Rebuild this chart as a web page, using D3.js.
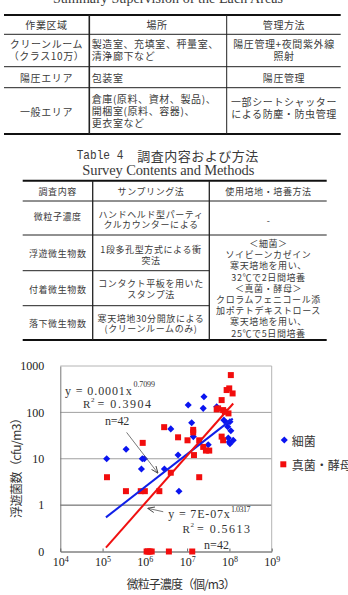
<!DOCTYPE html>
<html><head><meta charset="utf-8">
<script src="https://cdn.jsdelivr.net/npm/d3@7"></script>
<style>
html,body{margin:0;padding:0;background:#fff;overflow:hidden;}
svg{display:block;}
</style></head><body>
<svg id="c" width="348" height="595"></svg>
<script>
// ---------------- DATA ----------------
// Table 3
const t3Title = "Summary Supervision of the Each Areas";
const t3Header = ["作業区域", "場所", "管理方法"];
const t3Col1 = [["クリーンルーム", "（クラス10万）"], ["陽圧エリア"], ["一般エリア"]];
const t3Col2 = [["製造室、充填室、秤量室、", "清浄廊下など"], ["包装室"], ["倉庫(原料、資材、製品)、", "開梱室(原料、容器)、", "更衣室など"]];
const t3Col3 = [["陽圧管理+夜間紫外線", "照射"], ["陽圧管理"], ["一部シートシャッター", "による防塵・防虫管理"]];
// Table 4
const t4TitleA = "Table 4";
const t4TitleB = "調査内容および方法";
const t4TitleEn = "Survey Contents and Methods";
const t4Header = ["調査内容", "サンプリング法", "使用培地・培養方法"];
const t4Col1 = ["微粒子濃度", "浮遊微生物数", "付着微生物数", "落下微生物数"];
const t4Col2 = [["ハンドヘルド型パーティ", "クルカウンターによる"], ["1段多孔型方式による衝", "突法"], ["コンタクト平板を用いた", "スタンプ法"], ["寒天培地30分開放による", "(クリーンルームのみ)"]];
const t4Col3a = ["-"];
const t4Col3b = ["＜細菌＞", "ソイビーンカゼイン", "寒天培地を用い、", "32℃で2日間培養", "＜真菌・酵母＞", "クロラムフェニコール添", "加ポテトデキストロース", "寒天培地を用い、", "25℃で5日間培養"];

// Chart
const seriesNames = ["細菌", "真菌・酵母"];
const blueX = [1.25e5, 3.6e5, 8.7e5, 9.7e5, 8.3e5, 2.9e6, 4.1e6, 6.1e6, 6.4e6, 1.06e7, 1.28e7, 1.4e7, 2.5e7, 2.4e7, 3.15e7, 5.0e7, 7.4e7, 8.6e7, 1.03e8, 9.1e7, 1.08e8, 9.9e7, 1.23e8, 1.03e8, 9.4e7];
const blueY = [10, 16, 10, 10, 6, 6, 44, 12, 2, 144, 60, 30, 217, 122, 20, 132, 68, 60, 63, 49, 40, 23, 25, 21, 28];
const redX = [1.27e5, 3.57e5, 8.0e5, 1.0e6, 8.9e5, 2.2e6, 2.86e6, 4.1e6, 6.1e6, 1.02e7, 1.39e7, 1.39e7, 1.45e7, 1.93e7, 1.93e7, 2.4e7, 2.78e7, 3.33e7, 5.0e7, 6.55e7, 5.4e7, 7.1e7, 7.8e7, 8.6e7, 9.9e7, 1.19e8, 1.08e8, 6.55e7, 7.1e7, 9.5e7, 1.1e6, 1.2e6, 1.3e6, 1.45e6, 3.7e6, 1.32e7];
const redY = [4, 2, 2, 2, 22, 2, 48, 5, 29, 25, 42, 37, 12, 25, 4, 18, 15, 15, 116, 184, 122, 112, 103, 303, 329, 256, 637, 30, 25, 95, 0, 0, 0, 0, 0, 0];
// power-law trendlines: [coefficient, exponent, xStart, xEnd]
const blueFit = [1.35e-4, 0.7099, 1.2e5, 1.2e8];
const redFit = [7e-7, 1.0317, 1.2e5, 1.23e8];
const xTickVals = [1e4, 1e5, 1e6, 1e7, 1e8, 1e9];
const xTickExp = ["4", "5", "6", "7", "8", "9"];
const yTickVals = [0.1, 1, 10, 100, 1000];
const yTickLabels = ["0", "1", "10", "100", "1000"];
const blueEq = ["y = 0.0001x", "0.7099", "= 0.3904", "n=42"];
const redEq = ["y = 7E-07x", "1.0317", "= 0.5613", "n=42"];
const xTitle = "微粒子濃度（個/m3）";
const yTitle = "浮遊菌数（cfu/m3）";

// ---------------- DRAW ----------------
const JP = "'Noto Sans CJK JP', sans-serif";
const SERIF = "'Liberation Serif', 'DejaVu Serif', serif";
const MONO = "'Liberation Mono', monospace";
const TXT = "#3a3a3a";
const svg = d3.select("#c");

function lines(g, arr, x, yc, lh, anchor, size, ls) {
  const n = arr.length;
  arr.forEach((t, i) => {
    g.append("text").attr("x", x).attr("y", yc + (i - (n - 1) / 2) * lh)
      .attr("text-anchor", anchor).attr("dominant-baseline", "central")
      .style("font-family", JP).style("font-size", size + "px")
      .style("letter-spacing", ls + "px").attr("fill", TXT).text(t);
  });
}
function hline(g, x1, x2, yv, w, col) {
  g.append("line").attr("x1", x1).attr("x2", x2).attr("y1", yv).attr("y2", yv)
    .attr("stroke", col || "#222").attr("stroke-width", w);
}
function vline(g, xv, y1, y2, w, col) {
  g.append("line").attr("x1", xv).attr("x2", xv).attr("y1", y1).attr("y2", y2)
    .attr("stroke", col || "#222").attr("stroke-width", w);
}

// ---- Table 3 ----
const g3 = svg.append("g");
g3.append("text").attr("x", 168).attr("y", 2.5).attr("text-anchor", "middle")
  .style("font-family", SERIF).style("font-size", "14px").attr("fill", TXT)
  .attr("textLength", 230).attr("lengthAdjust", "spacing").text(t3Title);
const c3 = [4, 89.3, 226.7, 340.7];
const r3 = [15, 34.3, 66.7, 87.7, 134];
hline(g3, c3[0], c3[3], r3[0], 2, "#111");
hline(g3, c3[0], c3[3], r3[1], 1);
hline(g3, c3[0], c3[3], r3[2], 1);
hline(g3, c3[0], c3[3], r3[3], 1);
hline(g3, c3[0], c3[3], r3[4], 2, "#111");
vline(g3, c3[1], r3[0], r3[4], 1.6);
vline(g3, c3[2], r3[0], r3[4], 1);
const fs3 = 10, ls3 = 0.6;
lines(g3, [t3Header[0]], 46.5, 24.6, 11, "middle", fs3, ls3);
lines(g3, [t3Header[1]], 157, 24.6, 11, "middle", fs3, ls3);
lines(g3, [t3Header[2]], 284, 24.6, 11, "middle", fs3, ls3);
lines(g3, t3Col1[0], 46.5, 49.5, 11.6, "middle", fs3, ls3);
lines(g3, t3Col2[0], 91.7, 49.5, 11.6, "start", fs3, ls3);
lines(g3, t3Col3[0], 284, 49.5, 11.6, "middle", fs3, ls3);
lines(g3, t3Col1[1], 46.5, 77.3, 11, "middle", fs3, ls3);
lines(g3, t3Col2[1], 91.7, 77.3, 11, "start", fs3, ls3);
lines(g3, t3Col3[1], 284, 77.3, 11, "middle", fs3, ls3);
lines(g3, t3Col1[2], 46.5, 111, 11, "middle", fs3, ls3);
lines(g3, t3Col2[2], 91.7, 110, 12, "start", fs3, ls3);
lines(g3, t3Col3[2], 284, 107.5, 12.8, "middle", fs3, ls3);

// ---- Table 4 ----
const g4 = svg.append("g");
g4.append("text").attr("x", 76.7).attr("y", 155).attr("dominant-baseline", "central")
  .style("font-family", MONO).style("font-size", "13px").attr("fill", TXT)
  .attr("textLength", 46.6).attr("lengthAdjust", "spacingAndGlyphs").text(t4TitleA);
g4.append("text").attr("x", 137.3).attr("y", 155).attr("dominant-baseline", "central")
  .style("font-family", JP).style("font-size", "13px").attr("fill", TXT)
  .attr("textLength", 121).attr("lengthAdjust", "spacing").text(t4TitleB);
g4.append("text").attr("x", 168.3).attr("y", 174.5).attr("text-anchor", "middle")
  .style("font-family", SERIF).style("font-size", "14.5px").attr("fill", TXT)
  .attr("textLength", 172).attr("lengthAdjust", "spacing").text(t4TitleEn);
const c4 = [22.7, 92.7, 209.3, 326.7];
const r4 = [180.7, 201, 235, 270.7, 305.7, 340];
hline(g4, c4[0], c4[3], r4[0], 2, "#111");
hline(g4, c4[0], c4[3], r4[1], 1);
hline(g4, c4[0], c4[3], r4[2], 1);
hline(g4, c4[0], c4[2], r4[3], 1);
hline(g4, c4[0], c4[2], r4[4], 1);
hline(g4, c4[0], c4[3], r4[5], 2, "#111");
vline(g4, c4[1], r4[0], r4[5], 1.3);
vline(g4, c4[2], r4[0], r4[5], 1.3);
const fs4 = 9, ls4 = 0.6;
lines(g4, [t4Header[0]], 57.7, 191.2, 11, "middle", fs4, ls4);
lines(g4, [t4Header[1]], 151, 191.2, 11, "middle", fs4, ls4);
lines(g4, [t4Header[2]], 268.5, 191.2, 11, "middle", fs4, ls4);
const col1Y = [216.5, 253, 289, 323.3];
const col2Y = [219.5, 255.2, 289.2, 323.6];
t4Col1.forEach((t, i) => lines(g4, [t], 57.7, col1Y[i], 11, "middle", fs4, ls4));
t4Col2.forEach((t, i) => lines(g4, t, 151, col2Y[i], 10.6, "middle", fs4, ls4));
lines(g4, t4Col3a, 268.5, 220, 11, "middle", fs4, ls4);
lines(g4, t4Col3b, 268.5, 288.3, 11.2, "middle", fs4, ls4);

// ---- Chart ----
const x = d3.scaleLog().domain([1e4, 1e9]).range([60.3, 271.7]);
const y = d3.scaleLog().domain([0.1, 1000]).range([551.5, 366]);
const yv = v => y(Math.max(v, 0.1));
const gc = svg.append("g");
const X0 = x.range()[0], X1 = x.range()[1];

// gridlines
[1, 10, 100].forEach(v => {
  gc.append("line").attr("x1", X0).attr("x2", X1).attr("y1", y(v)).attr("y2", y(v))
    .attr("stroke", v === 1 ? "#555" : "#a0a0a0").attr("stroke-width", 1);
});
gc.append("line").attr("x1", X0).attr("x2", X1).attr("y1", y(1000)).attr("y2", y(1000))
  .attr("stroke", "#b4b4b4").attr("stroke-width", 1);
gc.append("line").attr("x1", X1).attr("x2", X1).attr("y1", y(1000)).attr("y2", y(0.1))
  .attr("stroke", "#b4b4b4").attr("stroke-width", 1);

// y axis
const yAxis = gc.append("g").attr("transform", `translate(${X0},0)`)
  .call(d3.axisLeft(y).tickValues(yTickVals).tickSize(0).tickPadding(16)
    .tickFormat((d, i) => yTickLabels[i]));
yAxis.select(".domain").attr("stroke", "#777");
yAxis.selectAll("text").style("font-family", SERIF).style("font-size", "12px").attr("fill", "#222");

// x axis
const xAxis = gc.append("g").attr("transform", `translate(0,${y(0.1)})`)
  .call(d3.axisBottom(x).tickValues(xTickVals).tickSizeInner(-3).tickSizeOuter(0).tickFormat(""));
xAxis.select(".domain").attr("stroke", "#444");
xAxis.selectAll(".tick line").attr("stroke", "#666");
xAxis.selectAll(".tick").each(function (d, i) {
  const t = d3.select(this).append("text").attr("y", 14.5).attr("fill", "#222")
    .attr("text-anchor", "middle").style("font-family", SERIF).style("font-size", "12px");
  t.append("tspan").text("10");
  t.append("tspan").attr("dy", -4).style("font-size", "8px").text(xTickExp[i]);
});

// points
const sq = d3.symbol(d3.symbolSquare, 36)();
const dm = d3.symbol(d3.symbolSquare, 25)();
gc.append("g").selectAll("path").data(blueX).join("path")
  .attr("d", dm).attr("fill", "#0a14f0")
  .attr("transform", (d, i) => `translate(${x(d)},${yv(blueY[i])}) rotate(45)`);
gc.append("g").selectAll("path").data(redX).join("path")
  .attr("d", sq).attr("fill", "#f20d0d")
  .attr("transform", (d, i) => `translate(${x(d)},${yv(redY[i])})`);

// trendlines
function fitLine(f, col) {
  const pts = [f[2], f[3]].map(xv => [x(xv), y(f[0] * Math.pow(xv, f[1]))]);
  gc.append("path").attr("d", d3.line()(pts)).attr("stroke", col)
    .attr("stroke-width", 2).attr("fill", "none");
}
fitLine(blueFit, "#1020e8");
fitLine(redFit, "#f01010");

// annotations
const defs = svg.append("defs");
defs.append("marker").attr("id", "ah").attr("viewBox", "0 0 10 10").attr("refX", 9).attr("refY", 5)
  .attr("markerWidth", 7).attr("markerHeight", 7).attr("markerUnits", "userSpaceOnUse")
  .attr("orient", "auto").append("path").attr("d", "M0,1 L10,5 L0,9")
  .attr("fill", "none").attr("stroke", "#444").attr("stroke-width", 1.3);
const arrows = [[[3.7e5, 37], [2.0e6, 5.0]], [[2.72e6, 0.72], [1.2e6, 0.85]]];
arrows.forEach(a => {
  gc.append("line").attr("x1", x(a[0][0])).attr("y1", y(a[0][1]))
    .attr("x2", x(a[1][0])).attr("y2", y(a[1][1]))
    .attr("stroke", "#555").attr("stroke-width", 0.8).attr("marker-end", "url(#ah)");
});
function txt(g, s, xx, yy, size, len, fam) {
  const t = g.append("text").attr("x", xx).attr("y", yy).attr("dominant-baseline", "central")
    .style("font-family", fam || SERIF).style("font-size", size + "px").attr("fill", "#333").text(s);
  if (len) t.attr("textLength", len).attr("lengthAdjust", "spacing");
  return t;
}
// blue equation
txt(gc, blueEq[0], 65, 390.5, 12, 66.7);
txt(gc, blueEq[1], 133.5, 384.5, 8, 21.5);
txt(gc, "R", 83, 404, 11);
txt(gc, "2", 91, 400, 7);
txt(gc, blueEq[2], 97.5, 404, 12, 53.5);
txt(gc, blueEq[3], 105, 421, 12, 24.3);
// red equation
txt(gc, redEq[0], 168.3, 513.5, 12, 61.5);
txt(gc, redEq[1], 231, 509, 8, 19.5);
txt(gc, "R", 182.4, 529, 11);
txt(gc, "2", 190.4, 525, 7);
txt(gc, redEq[2], 197, 529, 12, 53);
txt(gc, redEq[3], 204, 545, 12, 25);

// axis titles
txt(gc, xTitle, 126.7, 583, 12, 109, JP);
gc.append("text").attr("transform", "translate(15,518) rotate(-90)")
  .attr("dominant-baseline", "central").style("font-family", JP).style("font-size", "12px")
  .attr("fill", "#333").attr("textLength", 106).attr("lengthAdjust", "spacing").text(yTitle);

// legend
const lg = svg.append("g");
lg.append("path").attr("d", dm).attr("fill", "#0a14f0").attr("transform", "translate(284.3,440) rotate(45)");
lg.append("path").attr("d", sq).attr("fill", "#f20d0d").attr("transform", "translate(283.3,464.3)");
txt(lg, seriesNames[0], 291.7, 440, 12, null, JP);
txt(lg, seriesNames[1], 291.7, 464.3, 12, null, JP);
</script>
</body></html>
